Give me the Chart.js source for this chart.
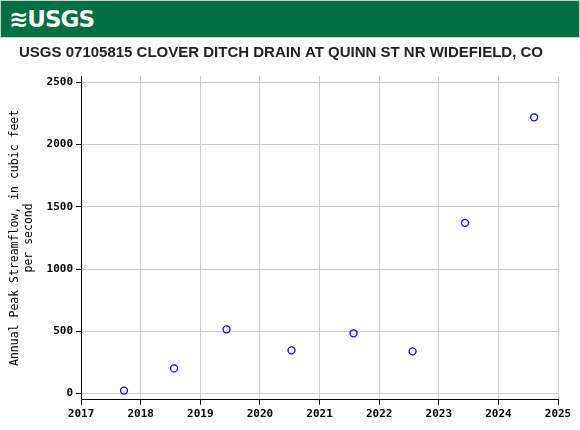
<!DOCTYPE html>
<html><head><meta charset="utf-8">
<script src="https://cdn.jsdelivr.net/npm/chart.js@4"></script>
<style>
body{margin:0;background:#fff;width:580px;height:430px;overflow:hidden}
#hdr{position:absolute;left:0;top:0;width:578px;height:36px;background:#006F41;border:1px solid #ccc}
#logo{position:absolute;left:8px;top:5px;color:#fff;font:bold 23px "DejaVu Sans";letter-spacing:-1px}
#wrap{position:absolute;left:0;top:38px;width:580px;height:390px}
</style></head><body>
<div id="hdr"><div id="logo">≋USGS</div></div>
<div id="wrap"><canvas id="c"></canvas></div>
<script>
const years=[2017.72,2018.56,2019.44,2020.53,2021.57,2022.56,2023.44,2024.60];
const peaks=[24,202,516,347,484,339,1371,2218];
const titleText="USGS 07105815 CLOVER DITCH DRAIN AT QUINN ST NR WIDEFIELD, CO";
const yLabel=["Annual Peak Streamflow, in cubic feet","per second"];
new Chart(document.getElementById('c'),{
type:'scatter',
data:{datasets:[{data:years.map((x,i)=>({x:x,y:peaks[i]})),borderColor:'#0000ff',backgroundColor:'rgba(0,0,0,0)',pointRadius:3.5,borderWidth:1.3}]},
options:{responsive:true,maintainAspectRatio:false,animation:false,
layout:{padding:{left:4,right:22,top:0,bottom:4}},
plugins:{legend:{display:false},tooltip:{enabled:false},
title:{display:true,text:titleText,color:'#222',font:{family:'Liberation Sans',size:15,weight:'bold'},padding:{top:6,bottom:14}}},
scales:{
x:{type:'linear',min:2017,max:2025,ticks:{stepSize:1,color:'#000',callback:v=>String(v),font:{family:'DejaVu Sans Mono',size:11,weight:'bold'},maxRotation:0},
grid:{color:'#cccccc',tickLength:5,tickColor:'#000'},border:{color:'#000'}},
y:{min:-50,max:2550,afterBuildTicks:a=>{a.ticks=[0,500,1000,1500,2000,2500].map(v=>({value:v}));},
ticks:{color:'#000',callback:v=>String(v),font:{family:'DejaVu Sans Mono',size:11,weight:'bold'}},
grid:{color:'#cccccc',tickLength:5,tickColor:'#000'},border:{color:'#000'},
title:{display:true,text:yLabel,color:'#000',font:{family:'DejaVu Sans Mono',size:11.5},padding:{bottom:8}}}
}}});
</script></body></html>
